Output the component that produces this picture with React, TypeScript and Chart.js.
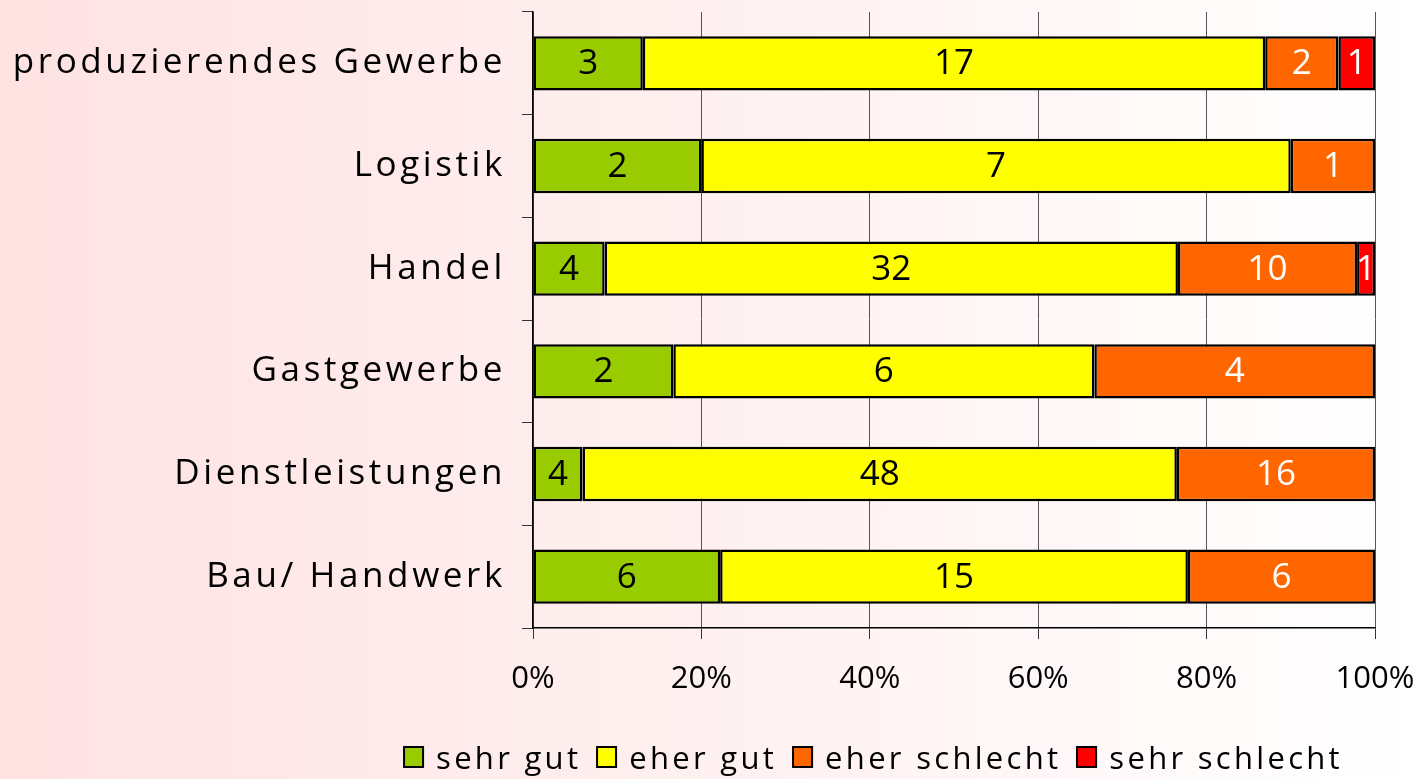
import React, { useEffect, useRef } from "react";
import { Chart, registerables } from "chart.js";

Chart.register(...registerables);

const categories = [
  "produzierendes Gewerbe",
  "Logistik",
  "Handel",
  "Gastgewerbe",
  "Dienstleistungen",
  "Bau/ Handwerk",
];
const seriesNames = ["sehr gut", "eher gut", "eher schlecht", "sehr schlecht"];
const sehrGut = [3, 2, 4, 2, 4, 6];
const eherGut = [17, 7, 32, 6, 48, 15];
const eherSchlecht = [2, 1, 10, 4, 16, 6];
const sehrSchlecht = [1, 0, 1, 0, 0, 0];
const xTicks = [0, 20, 40, 60, 80, 100];

const seriesColors = ["#99cc00", "#ffff00", "#ff6600", "#ff0000"];
const labelColors = ["#000000", "#000000", "#ffffff", "#ffffff"];
const FONT = '"Open Sans", "DejaVu Sans", sans-serif';

const counts = [sehrGut, eherGut, eherSchlecht, sehrSchlecht];
const totals = categories.map((_, i) => counts.reduce((s, arr) => s + arr[i], 0));

export default function App() {
  const ref = useRef<HTMLCanvasElement>(null);

  useEffect(() => {
    if (!ref.current) return;

    const yLabelPlugin = {
      id: "yLabels",
      afterDraw(chart: any) {
        const ctx = chart.ctx;
        const y = chart.scales.y;
        ctx.save();
        ctx.font = `35px ${FONT}`;
        (ctx as any).letterSpacing = "3.6px";
        ctx.textAlign = "right";
        ctx.textBaseline = "middle";
        ctx.fillStyle = "#000";
        categories.forEach((c, i) => {
          ctx.fillText(c, 506, y.getPixelForValue(i));
        });
        ctx.restore();
      },
    };

    const dataLabelPlugin = {
      id: "dataLabels",
      afterDatasetsDraw(chart: any) {
        const ctx = chart.ctx;
        ctx.save();
        ctx.font = `35px ${FONT}`;
        ctx.textAlign = "center";
        ctx.textBaseline = "middle";
        chart.data.datasets.forEach((ds: any, di: number) => {
          const meta = chart.getDatasetMeta(di);
          meta.data.forEach((bar: any, i: number) => {
            const v = counts[di][i];
            if (!v) return;
            ctx.fillStyle = labelColors[di];
            ctx.fillText(String(v), (bar.x + bar.base) / 2, bar.y + 1);
          });
        });
        ctx.restore();
      },
    };

    const chart = new Chart(ref.current, {
      type: "bar",
      data: {
        labels: categories,
        datasets: counts.map((arr, di) => ({
          label: seriesNames[di],
          data: arr.map((v, i) => (v / totals[i]) * 100),
          backgroundColor: seriesColors[di],
          borderColor: "#000",
          borderWidth: 2.5,
          borderSkipped: false,
          barPercentage: 0.53,
          categoryPercentage: 1,
        })),
      },
      options: {
        indexAxis: "y",
        animation: false,
        responsive: false,
        layout: { padding: { left: 0, top: 12, right: 46, bottom: 81 } },
        plugins: {
          legend: { display: false },
          tooltip: { enabled: false },
        },
        scales: {
          x: {
            stacked: true,
            min: 0,
            max: 100,
            afterBuildTicks: (scale: any) => {
              scale.ticks = xTicks.map((v) => ({ value: v }));
            },
            afterFit: (scale: any) => {
              scale.height = 70;
              scale.paddingLeft = 0;
              scale.paddingRight = 0;
            },
            ticks: {
              callback: (v: any) => v + "%",
              font: { family: FONT, size: 31 },
              color: "#000",
              padding: 22,
              maxRotation: 0,
            },
            grid: {
              color: "#555",
              tickColor: "#333",
              lineWidth: 1,
              tickLength: 11,
            },
            border: { color: "#000", width: 1.5 },
          },
          y: {
            stacked: true,
            afterFit: (scale: any) => {
              scale.width = 533;
              scale.paddingTop = 0;
              scale.paddingBottom = 0;
            },
            ticks: { display: false },
            grid: {
              offset: true,
              drawOnChartArea: false,
              color: "#333",
              tickLength: 11,
            },
            border: { color: "#000", width: 1.5 },
          },
        },
      },
      plugins: [dataLabelPlugin, yLabelPlugin],
    });

    return () => chart.destroy();
  }, []);

  return (
    <div
      style={{
        position: "absolute",
        left: 0,
        top: 0,
        width: 1421,
        height: 779,
        background: "linear-gradient(to right, #fee2e2 0%, #fff2f2 55%, #ffffff 100%)",
        fontFamily: FONT,
      }}
    >
      <canvas ref={ref} width={1421} height={779} style={{ display: "block" }} />
      <div
        style={{
          position: "absolute",
          left: 873,
          top: 739,
          transform: "translateX(-50%)",
          display: "flex",
          alignItems: "center",
          whiteSpace: "nowrap",
          height: 36,
        }}
      >
        {seriesNames.map((n, i) => (
          <div key={n} style={{ display: "flex", alignItems: "center", marginRight: i < 3 ? 15 : 0 }}>
            <span
              style={{
                display: "inline-block",
                width: 17,
                height: 18,
                background: seriesColors[i],
                border: "2px solid #000",
                marginRight: 12,
              }}
            />
            <span style={{ fontSize: 31, letterSpacing: "3.3px", color: "#000", lineHeight: "36px" }}>{n}</span>
          </div>
        ))}
      </div>
    </div>
  );
}
